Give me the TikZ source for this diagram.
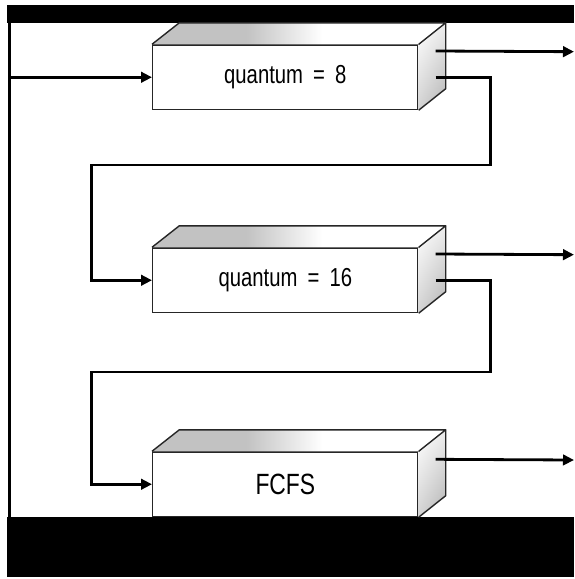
\documentclass[tikz,border=0pt]{standalone}
\usepackage{fontspec}
\newfontfamily\boxfont[FakeStretch=0.78,WordSpace=1.8]{Liberation Sans}
\usetikzlibrary{arrows.meta,calc,shadings}
\pgfdeclarehorizontalshading{topface}{100bp}{color(0bp)=(gray!48); color(41bp)=(gray!48); color(54bp)=(white); color(100bp)=(white)}
\tikzset{
  front/.style={draw=black!85, line width=1.4pt, fill=white, minimum width=265.3pt,
    minimum height=64.5pt, inner sep=0pt, font=\boxfont\fontsize{26}{30}\selectfont},
  bigtext/.style={font=\boxfont\fontsize{29.3}{34}\selectfont},
  faceedge/.style={draw=black!85, line width=1.4pt, line join=round},
  conn/.style={line width=2.8pt, black},
  arr/.style={conn, -{Triangle[length=11pt,width=10.5pt]}},
  frame/.style={fill=black},
}
\newcommand{\cubefaces}[1]{%
  \shade[shading=topface] (#1.north west) -- ++(27.3,-21.5) -- ($(#1.north east)+(27,-21.5)$) -- (#1.north east) -- cycle;
  \shade[upper left=white, upper right=gray!15, lower left=gray!35, lower right=gray!60]
    (#1.north east) -- ++(27,-21.5) -- ($(#1.south east)+(27,-21.5)$) -- (#1.south east) -- cycle;
  \draw[faceedge] (#1.north west) -- ++(27.3,-21.5) -- ($(#1.north east)+(27,-21.5)$) -- (#1.north east);
  \draw[faceedge] ($(#1.north east)+(27,-21.5)$) -- ($(#1.south east)+(27,-21.5)$) -- (#1.south east);
}
\begin{document}
\begin{tikzpicture}[x=1pt,y=-1pt]
\useasboundingbox (0,0) rectangle (574,579);
\fill[white] (0,0) rectangle (574,579);
% frame
\fill[frame] (7,4.5) rectangle (574,22.5);
\fill[frame] (7,517) rectangle (574,576.5);
\fill[frame] (8,22) rectangle (11,517);

% boxes
\node[front] (b1) at (285.35,77.25) {quantum = 8};
\cubefaces{b1}
\node[front] (b2) at (285.35,280.25) {quantum = 16};
\cubefaces{b2}
\node[front, bigtext] (b3) at (285.35,484.25) {FCFS};
\cubefaces{b3}

% coordinates
\coordinate (src) at (9.5,77.25);
\coordinate (b1o1) at ($(b1.north east)+(17,6.7)$);
\coordinate (b1o2) at ($(b1.north east)+(17,33.3)$);
\coordinate (b2o1) at ($(b2.north east)+(17,6.7)$);
\coordinate (b2o2) at ($(b2.north east)+(17,33.3)$);
\coordinate (b3o1) at ($(b3.north east)+(17,8)$);
\coordinate (x1) at (574,51.7);
\coordinate (x2) at (574,254.7);
\coordinate (x3) at (574,460);
\coordinate (r1) at (490.7,165);
\coordinate (l1) at (91.7,165);
\coordinate (r2) at (490.7,372);
\coordinate (l2) at (91.7,372);

% connectors
\draw[arr] (src) -- (b1.west);
\draw[arr] (b1o1) -- (x1);
\draw[arr] (b1o2) -| (r1) -- (l1) |- (b2.west);
\draw[arr] (b2o1) -- (x2);
\draw[arr] (b2o2) -| (r2) -- (l2) |- (b3.west);
\draw[arr] (b3o1) -- (x3);
\end{tikzpicture}
\end{document}
